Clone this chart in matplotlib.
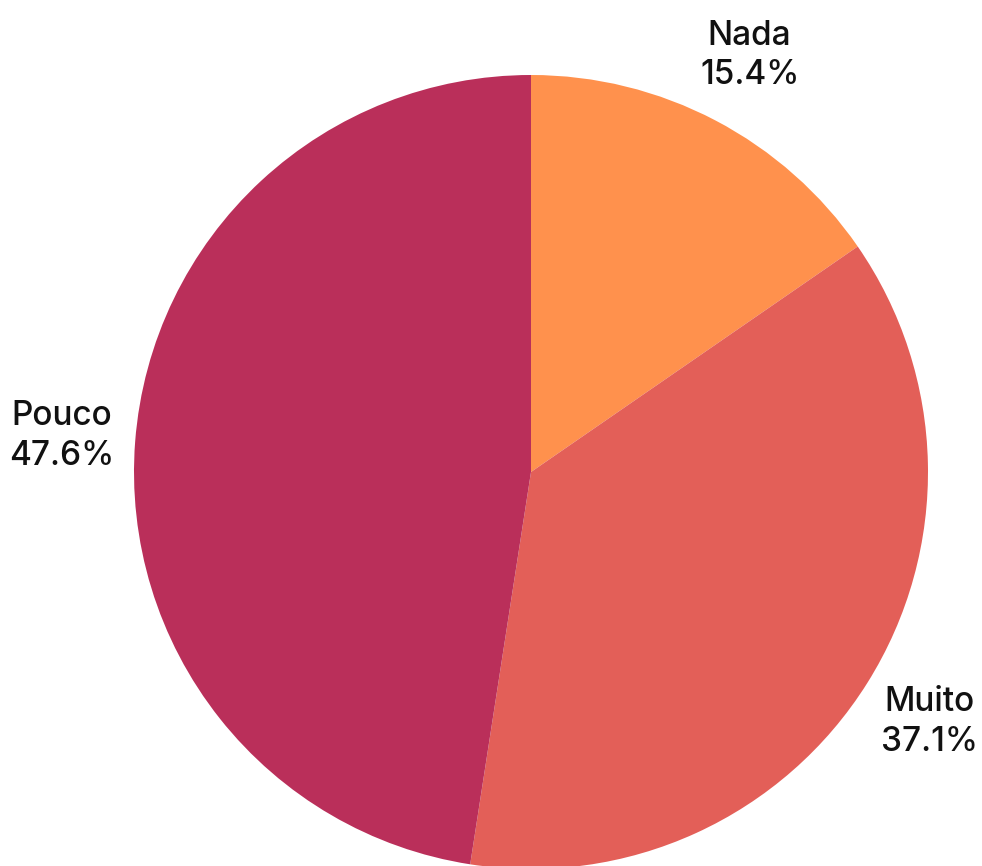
import matplotlib.pyplot as plt

# answer shares, clockwise from 12 o'clock
labels = ["Nada", "Muito", "Pouco"]
shares = [15.4, 37.1, 47.6]
colors = ["#FF914D", "#E35F58", "#BA2F5A"]

plt.rcParams['font.family'] = ['Inter', 'DejaVu Sans']

fig = plt.figure(figsize=(9.82, 8.66), dpi=100)
ax = fig.add_axes([0, 0, 1, 1])

texts = [f"{lab}\n{val}%" for lab, val in zip(labels, shares)]
ax.pie(shares, labels=texts, colors=colors, startangle=90, counterclock=False,
       center=(531, 394), radius=397, labeldistance=1.185,
       wedgeprops=dict(linewidth=0),
       textprops=dict(ha='center', va='center', fontsize=24, fontweight='medium',
                      linespacing=1.3, color='#111111'))

ax.set_xlim(0, 982)
ax.set_ylim(0, 866)
ax.set_aspect('equal')
ax.axis('off')

fig.savefig("out.png", dpi=100)
